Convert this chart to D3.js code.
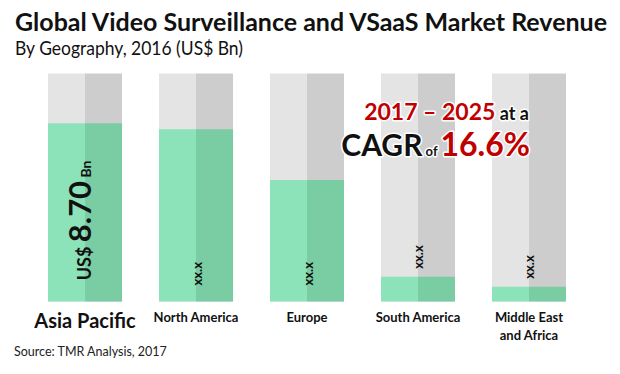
<!DOCTYPE html>
<html><head><meta charset="utf-8">
<script src="https://cdn.jsdelivr.net/npm/d3@7/dist/d3.min.js"></script>
<style>body{margin:0;background:#fff}svg{display:block}text{font-family:Lato,"Open Sans",sans-serif}</style>
</head><body><svg id="c" width="620" height="374"></svg>
<script>
const categories = ["Asia Pacific","North America","Europe","South America","Middle East and Africa"];
const categoryLines = [["Asia Pacific"],["North America"],["Europe"],["South America"],["Middle East","and Africa"]];
const values = [8.70, 8.41, 5.93, 1.21, 0.72];
const valueLabels = ["8.70","xx.x","xx.x","xx.x","xx.x"];
const scaleMax = 11.13;

const svg = d3.select("#c");
const x = d3.scaleBand().domain(categories).range([48,566]).paddingInner(0.333).paddingOuter(0);
const y = d3.scaleLinear().domain([0, scaleMax]).range([301.5, 73.5]);
const bw = x.bandwidth();

// title
svg.append("text").attr("x",15).attr("y",31).attr("font-size",24).attr("font-weight",700).attr("fill","#111")
  .attr("textLength",592).attr("lengthAdjust","spacingAndGlyphs").text("Global Video Surveillance and VSaaS Market Revenue");
svg.append("text").attr("x",15).attr("y",55).attr("font-size",19).attr("fill","#111")
  .attr("textLength",228).attr("lengthAdjust","spacingAndGlyphs").text("By Geography, 2016 (US$ Bn)");

const g = svg.append("g");
const bars = g.selectAll("g.bar").data(categories).join("g").attr("class","bar");
// background
bars.append("rect").attr("x",d=>x(d)).attr("y",y(scaleMax)).attr("width",bw/2).attr("height",y(0)-y(scaleMax)).attr("fill","#e4e4e4");
bars.append("rect").attr("x",d=>x(d)+bw/2).attr("y",y(scaleMax)).attr("width",bw/2).attr("height",y(0)-y(scaleMax)).attr("fill","#cdcdcd");
// value
bars.append("rect").attr("x",d=>x(d)).attr("y",(d,i)=>y(values[i])).attr("width",bw/2).attr("height",(d,i)=>y(0)-y(values[i])).attr("fill","#8ce3b9");
bars.append("rect").attr("x",d=>x(d)+bw/2).attr("y",(d,i)=>y(values[i])).attr("width",bw/2).attr("height",(d,i)=>y(0)-y(values[i])).attr("fill","#7acda3");

// value labels
categories.forEach((c,i)=>{
  const cx = x(c)+bw/2;
  if(i===0){
    const t = svg.append("text").attr("transform",`translate(${cx+6},${(y(0)+y(values[i]))/2+8}) rotate(-90)`)
      .attr("text-anchor","middle").attr("font-weight",700).attr("fill","#111");
    t.append("tspan").attr("font-size",18).text("US$ ");
    t.append("tspan").attr("font-size",31).text(valueLabels[i]);
    t.append("tspan").attr("font-size",14).text(" Bn");
  } else {
    const h = y(0)-y(values[i]);
    const start = h>40 ? y(0)-16 : y(values[i])-8;
    svg.append("text").attr("transform",`translate(${cx+5.5},${start}) rotate(-90)`)
      .attr("text-anchor","start").attr("font-weight",700).attr("font-size",13).attr("fill","#111").text(valueLabels[i]);
  }
});

// category labels
categories.forEach((c,i)=>{
  const cx = x(c)+bw/2;
  const big = i===0;
  const t = svg.append("text").attr("x",cx).attr("y",big?328:322).attr("text-anchor","middle")
    .attr("font-weight",700).attr("font-size",big?20:13).attr("fill","#111");
  categoryLines[i].forEach((l,j)=>t.append("tspan").attr("x",cx).attr("dy",j?18:0).text(l));
});

// CAGR callout
const red = "#c00000";
const c1 = svg.append("text").attr("x",529).attr("y",120).attr("text-anchor","end").attr("font-weight",700)
  .attr("stroke","#fff").attr("stroke-width",3).attr("paint-order","stroke").attr("stroke-linejoin","round");
c1.append("tspan").attr("font-size",23).attr("fill",red).text("2017 – 2025");
c1.append("tspan").attr("font-size",18).attr("fill","#111").text(" at a");
const c2 = svg.append("text").attr("x",530).attr("y",156).attr("text-anchor","end").attr("font-weight",700)
  .attr("stroke","#fff").attr("stroke-width",3).attr("paint-order","stroke").attr("stroke-linejoin","round");
c2.append("tspan").attr("font-size",30).attr("fill","#111").text("CAGR");
c2.append("tspan").attr("font-size",13).attr("fill","#111").text(" of ");
c2.append("tspan").attr("font-size",32).attr("fill",red).text("16.6%");

// source
svg.append("text").attr("x",14).attr("y",356).attr("font-size",12.5).attr("fill","#222").text("Source: TMR Analysis, 2017");
</script></body></html>
